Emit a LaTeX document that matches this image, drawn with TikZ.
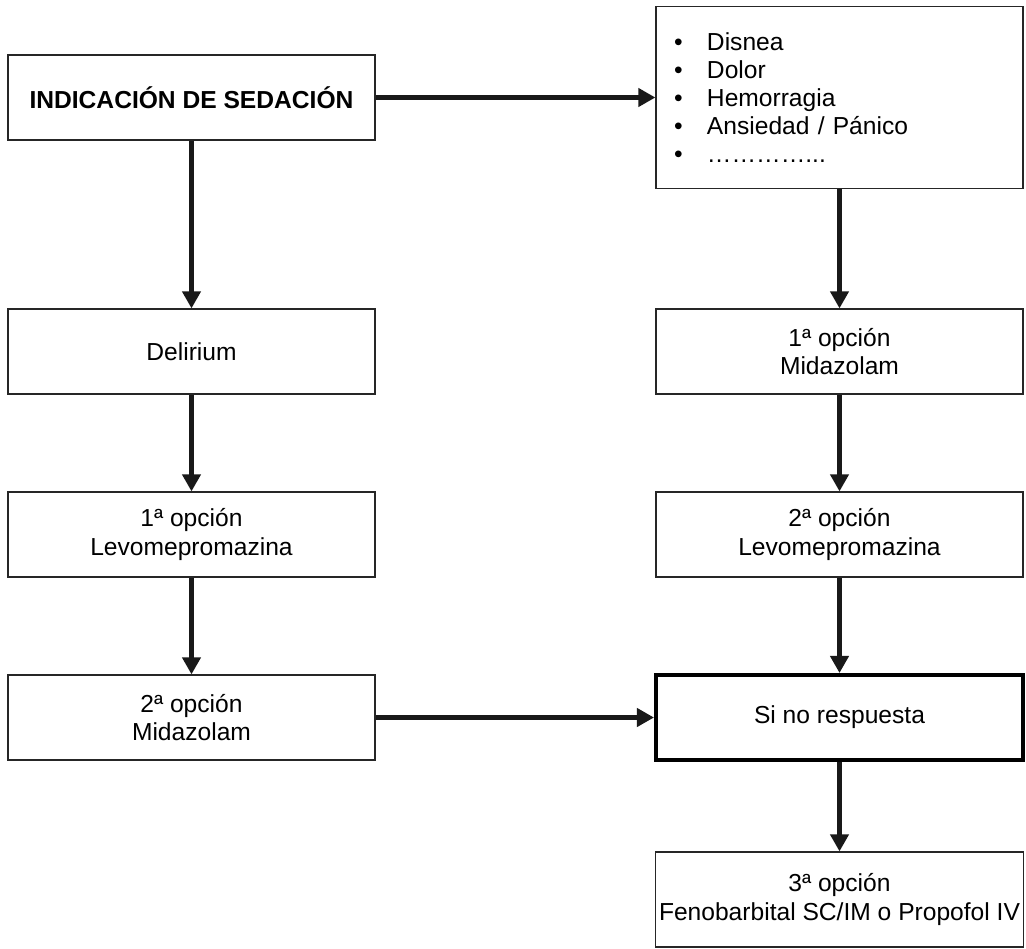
\documentclass[tikz,border=0pt]{standalone}
\usepackage{fontspec}
\setmainfont{Liberation Sans}
\usetikzlibrary{arrows.meta}
\tikzset{
  caja/.style={draw=black!85, line width=0.7pt, minimum width=7.34cm, minimum height=1.7cm, align=center, inner sep=2pt, font=\fontsize{14}{16}\selectfont},
  cajafuerte/.style={caja, draw=black, line width=2.3pt},
  flecha/.style={-{Triangle[length=0.34cm,width=0.36cm]}, line width=2.3pt, black!90},
}
\newcommand{\punto}[1]{\makebox[0.66cm][l]{\textbullet}#1}

\begin{document}
\begin{tikzpicture}
	\useasboundingbox (0,0) rectangle (20.52,-18.96);
	% columna izquierda
	\node[caja, font=\fontsize{14}{16}\selectfont\bfseries] (sedacion) at (3.83,-1.95) {INDICACIÓN DE SEDACIÓN};
	\node[caja] (delirium) at (3.83,-7.03) {Delirium};
	\node[caja] (levoA) at (3.83,-10.69) {1ª opción\\Levomepromazina};
	\node[caja] (midaB) at (3.83,-14.35) {2ª opción\\Midazolam};
	% columna derecha
	\node[caja, text width=6.62cm, inner xsep=0.36cm, align=left, minimum height=3.64cm] (causas) at (16.79,-1.95) {\punto{Disnea}\\\punto{Dolor}\\\punto{Hemorragia}\\\punto{Ansiedad / Pánico}\\\punto{…………...}};
	\node[caja] (midaA) at (16.79,-7.03) {1ª opción\\Midazolam};
	\node[caja] (levoB) at (16.79,-10.69) {2ª opción\\Levomepromazina};
	\node[cajafuerte] (sinresp) at (16.79,-14.35) {Si no respuesta};
	\node[caja, minimum height=1.9cm] (tercera) at (16.79,-17.99) {3ª opción\\Fenobarbital SC/IM o Propofol IV};

	\draw[flecha] (sedacion) -- (causas);
	\draw[flecha] (sedacion) -- (delirium);
	\draw[flecha] (delirium) -- (levoA);
	\draw[flecha] (levoA) -- (midaB);
	\draw[flecha] (midaB) -- (sinresp);
	\draw[flecha] (causas) -- (midaA);
	\draw[flecha] (midaA) -- (levoB);
	\draw[flecha] (levoB) -- (sinresp);
	\draw[flecha] (sinresp) -- (tercera);
\end{tikzpicture}
\end{document}
